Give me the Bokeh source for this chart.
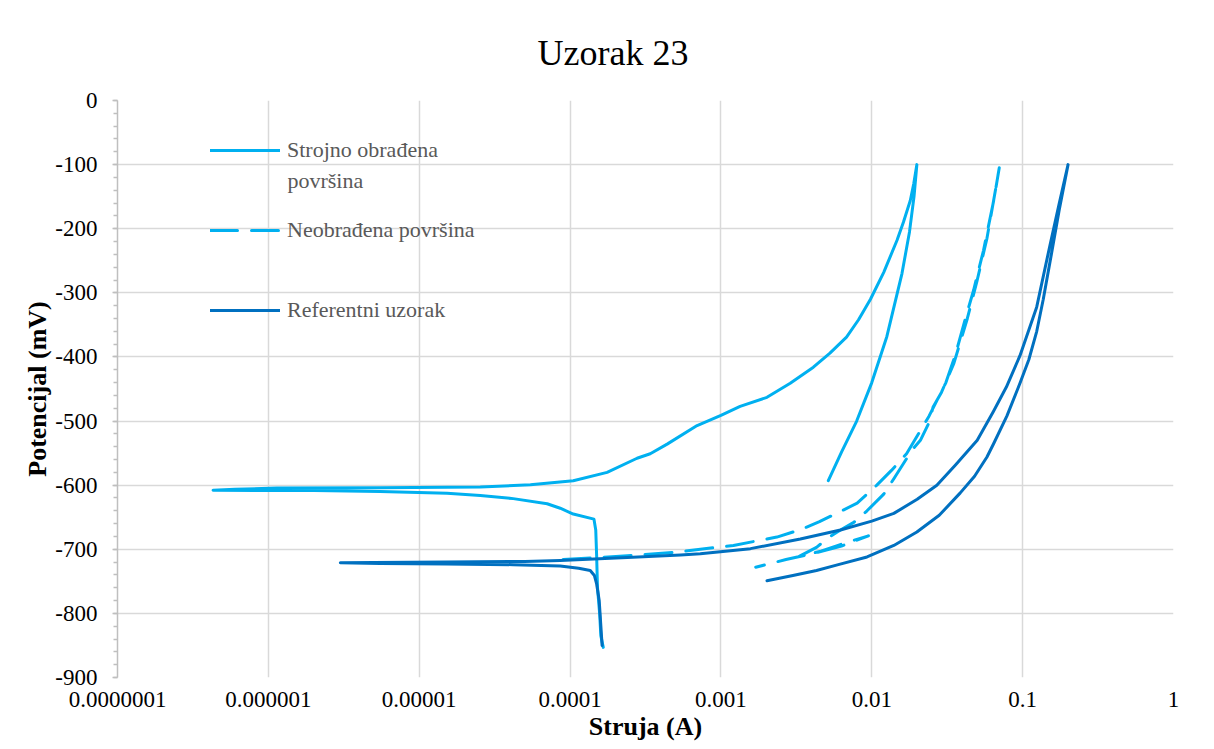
from bokeh.plotting import figure
from bokeh.models import (Legend, LegendItem, FixedTicker, SingleIntervalTicker,
                          CustomJSTickFormatter, Label, ColumnDataSource)
from bokeh.embed import file_html
from bokeh.resources import INLINE

# ---------------- data ----------------
title_text = "Uzorak 23"
x_label = "Struja (A)"
y_label = "Potencijal (mV)"
series_names = ["Strojno obrađena površina", "Neobrađena površina", "Referentni uzorak"]

x_ticks = [1e-7, 1e-6, 1e-5, 1e-4, 1e-3, 1e-2, 1e-1, 1.0]
x_tick_labels = ["0.0000001", "0.000001", "0.00001", "0.0001", "0.001", "0.01", "0.1", "1"]
y_min, y_max, y_step = -900, 0, 100

# Strojno obrađena površina (current A, potential mV)
s1_current = [1.66e-4, 1.60e-4, 1.57e-4, 1.52e-4, 1.50e-4, 1.48e-4, 1.44e-4, 1.05e-4, 8.6e-5,
              7.05e-5, 4.2e-5, 2.54e-5, 1.53e-5, 5.5e-6, 2.0e-6, 4.3e-7,
              6.0e-7, 1.14e-6, 5.5e-6, 2.54e-5, 5.46e-5, 1.05e-4, 1.76e-4, 2.78e-4, 3.4e-4,
              4.4e-4, 6.95e-4, 1.0e-3, 1.34e-3, 2.02e-3, 2.88e-3, 4.1e-3, 5.28e-3, 6.8e-3,
              8.17e-3, 9.8e-3, 1.2e-2, 1.47e-2, 1.62e-2, 1.8e-2, 1.897e-2, 1.99e-2,
              1.905e-2, 1.778e-2, 1.585e-2, 1.259e-2, 1.0e-2, 7.94e-3, 6.31e-3, 5.15e-3]
s1_potential = [-853, -835, -800, -760, -710, -670, -653, -645, -636,
                -629, -621, -616, -612.5, -610, -608.5, -608,
                -606.5, -604.5, -604, -603, -599.5, -593, -580, -558, -551,
                -536, -507, -491, -477, -463, -441, -416, -394, -369,
                -342, -310, -268, -218, -190, -156, -130, -100,
                -150, -205, -270, -368, -440, -500, -548, -593]

# Neobrađena površina
s2_current = [9.0e-5, 1.5e-4, 2.4e-4, 4.8e-4, 7.3e-4, 1.21e-3, 1.82e-3, 2.35e-3, 3.4e-3,
              4.5e-3, 6.2e-3, 8.0e-3, 1.08e-2, 1.35e-2, 1.7e-2, 2.4e-2, 3.1e-2, 3.6e-2,
              4.2e-2, 4.73e-2, 5.5e-2, 6.43e-2, 7.0e-2,
              6.6e-2, 5.8e-2, 5.0e-2, 4.3e-2, 3.5e-2, 2.9e-2, 2.55e-2, 2.4e-2, 2.1e-2,
              1.85e-2, 1.4e-2, 1.2e-2, 9.3e-3, 7.6e-3, 6.2e-3, 5.3e-3, 4.3e-3, 3.3e-3,
              4.6e-3, 6.5e-3, 9.5e-3, 6.3e-3, 4.0e-3, 2.7e-3, 1.7e-3]
s2_potential = [-716, -713, -710, -705, -700, -694, -686, -681, -669,
                -657, -641, -628, -600, -577, -551, -492, -440, -395,
                -338, -296, -234, -156, -105,
                -140, -215, -280, -340, -410, -455, -478, -502, -530,
                -545, -590, -614, -640, -658, -670, -680, -697, -711,
                -703, -691, -679, -695, -707, -716, -728]

# Referentni uzorak
s3_current = [1.63e-4, 1.60e-4, 1.56e-4, 1.50e-4, 1.45e-4, 1.36e-4, 1.14e-4, 8.6e-5, 4.2e-5,
              1.5e-5, 5.5e-6, 3.0e-6,
              5.0e-6, 1.5e-5, 5.0e-5, 8.6e-5, 2.4e-4, 5.4e-4, 7.3e-4, 1.57e-3, 3.36e-3,
              6.2e-3, 1.0e-2, 1.4e-2, 2.0e-2, 2.7e-2, 3.6e-2, 5.0e-2, 6.4e-2, 7.8e-2,
              9.6e-2, 1.24e-1, 1.52e-1, 1.75e-1, 2.0e-1,
              1.75e-1, 1.55e-1, 1.37e-1, 1.24e-1, 1.1e-1, 9.64e-2, 7.87e-2, 6.43e-2, 5.8e-2,
              4.8e-2, 3.86e-2, 2.8e-2, 1.99e-2, 1.4e-2, 9.3e-3, 6.0e-3, 4.3e-3, 3.0e-3, 2.02e-3]
s3_potential = [-850, -820, -780, -754, -741, -733, -729.5, -726, -724,
                -723, -722, -721,
                -720.5, -720, -719, -717.5, -713, -709, -707, -699, -684,
                -670, -656, -644, -622, -600, -568, -530, -485, -447,
                -398, -322, -225, -160, -100,
                -170, -240, -310, -360, -404, -440, -492, -535, -556,
                -586, -612, -647, -673, -694, -712, -724, -733, -741, -749]

# ---------------- styling ----------------
FONT = "Liberation Serif"
C_LIGHT = "#00B0F0"
C_DARK = "#0070C0"
GRID = "#D9D9D9"

p = figure(width=1212, height=748, x_axis_type="log",
           x_range=(x_ticks[0], x_ticks[-1]), y_range=(y_min, y_max),
           output_backend="svg", toolbar_location=None,
           min_border_left=117, min_border_right=39, min_border_top=100, min_border_bottom=71)
p.outline_line_color = None
p.background_fill_color = "white"
p.border_fill_color = "white"

# title
p.title.text = title_text
p.title.text_font = FONT
p.title.text_font_size = "36px"
p.title.text_font_style = "normal"
p.title.text_color = "#000000"
p.title.align = "left"
p.title.offset = 420
p.title.standoff = 56

# axes
p.xaxis.ticker = FixedTicker(ticks=x_ticks)
p.xaxis.formatter = CustomJSTickFormatter(
    args=dict(vals=x_ticks, labs=x_tick_labels),
    code="""
    for (let i = 0; i < vals.length; i++) {
        if (Math.abs(Math.log10(tick) - Math.log10(vals[i])) < 1e-6) return labs[i];
    }
    return '';
    """)
p.xaxis.axis_line_color = None
p.xaxis.major_tick_line_color = None
p.xaxis.minor_tick_line_color = None
p.xaxis.major_tick_out = 0
p.xaxis.major_tick_in = 0
p.xaxis.major_label_standoff = 14
p.xaxis.axis_label = x_label
p.xaxis.axis_label_standoff = 2

p.yaxis.ticker = SingleIntervalTicker(interval=y_step, num_minor_ticks=5)
p.yaxis.formatter = CustomJSTickFormatter(code="return Math.round(tick).toString();")
p.yaxis.axis_line_color = "#BFBFBF"
p.yaxis.axis_line_width = 1.5
p.yaxis.major_tick_line_color = "#BFBFBF"
p.yaxis.major_tick_line_width = 1.5
p.yaxis.minor_tick_line_color = "#BFBFBF"
p.yaxis.minor_tick_line_width = 1.5
p.yaxis.major_tick_in = 0
p.yaxis.major_tick_out = 5
p.yaxis.minor_tick_in = 0
p.yaxis.minor_tick_out = 4
p.yaxis.major_label_standoff = 15
p.yaxis.axis_label = y_label
p.yaxis.axis_label_standoff = 0

for ax in (p.xaxis, p.yaxis):
    ax.major_label_text_font = FONT
    ax.major_label_text_font_size = "23px"
    ax.major_label_text_color = "#000000"
    ax.axis_label_text_font = FONT
    ax.axis_label_text_font_size = "26px"
    ax.axis_label_text_font_style = "bold"
    ax.axis_label_text_color = "#000000"

p.xgrid.grid_line_color = GRID
p.xgrid.grid_line_width = 1.5
p.ygrid.grid_line_color = GRID
p.ygrid.grid_line_width = 1.5

# series
src1 = ColumnDataSource(dict(x=s1_current, y=s1_potential))
src2 = ColumnDataSource(dict(x=s2_current, y=s2_potential))
src3 = ColumnDataSource(dict(x=s3_current, y=s3_potential))

r1 = p.line("x", "y", source=src1, line_color=C_LIGHT, line_width=3,
            line_cap="round", line_join="round")
r2 = p.line("x", "y", source=src2, line_color=C_LIGHT, line_width=3,
            line_dash="27 14", line_cap="round", line_join="round")
r3 = p.line("x", "y", source=src3, line_color=C_DARK, line_width=3,
            line_cap="round", line_join="round")

# legend (first label wraps onto a second line)
legend = Legend(items=[
    LegendItem(label="Strojno obrađena", renderers=[r1]),
    LegendItem(label=series_names[1], renderers=[r2]),
    LegendItem(label=series_names[2], renderers=[r3]),
], location=(93, 354))
legend.margin = 0
legend.padding = 0
legend.spacing = 54
legend.glyph_width = 70
legend.glyph_height = 26
legend.label_height = 26
legend.label_standoff = 7
legend.border_line_color = None
legend.background_fill_alpha = 0
legend.label_text_font = FONT
legend.label_text_font_size = "22px"
legend.label_text_color = "#595959"
p.add_layout(legend)

wrap = Label(x=1.338e-6, y=-124.8, text="površina", text_font=FONT,
             text_font_size="22px", text_color="#595959",
             text_align="left", text_baseline="middle")
p.add_layout(wrap)

open("out.html", "w").write(file_html(p, INLINE))
